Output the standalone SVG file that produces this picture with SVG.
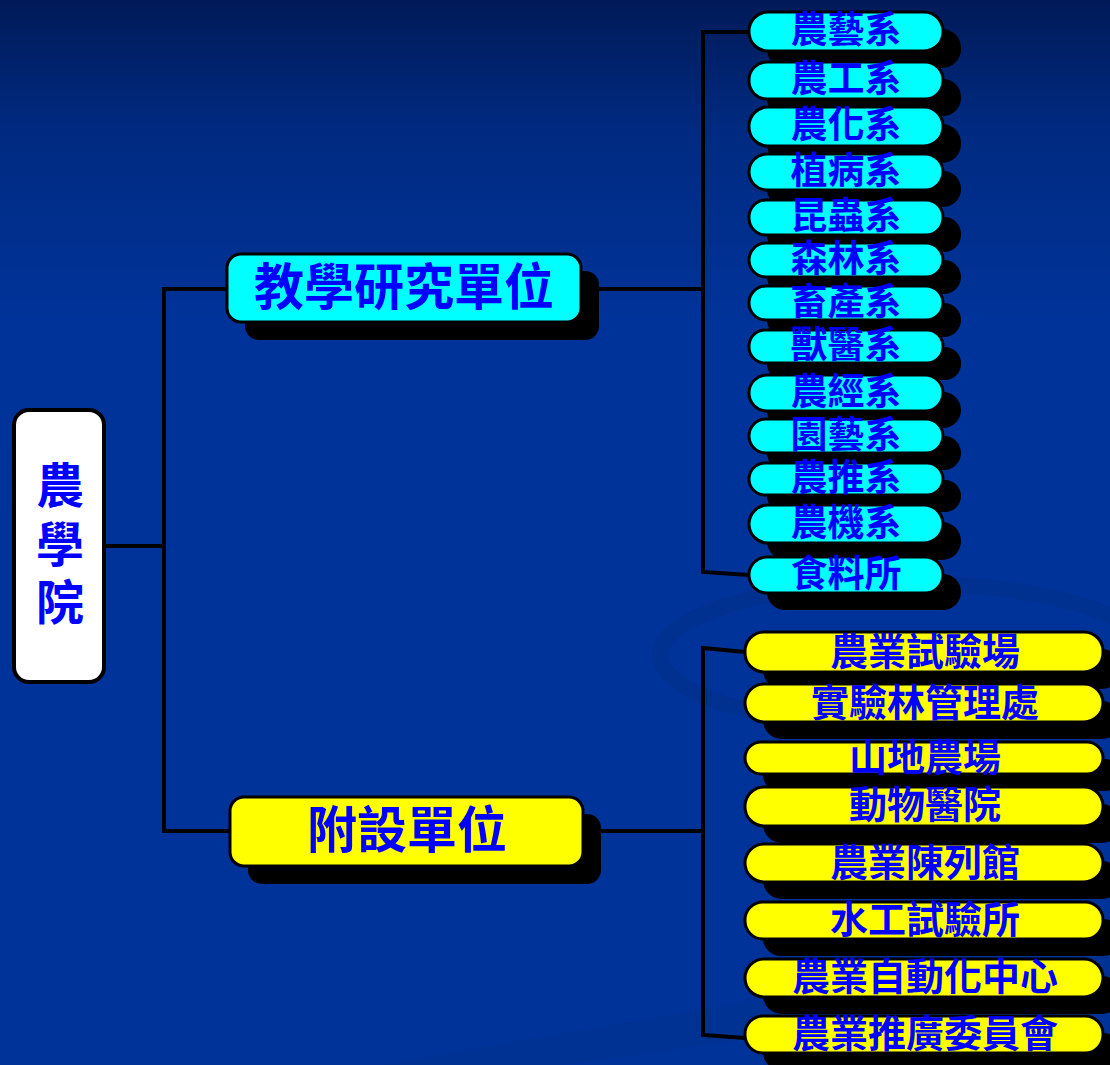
<svg xmlns="http://www.w3.org/2000/svg" width="1110" height="1065" viewBox="0 0 1110 1065">
<defs>
<linearGradient id="bg" x1="0" y1="0" x2="0" y2="1065" gradientUnits="userSpaceOnUse">
<stop offset="0" stop-color="#001a58"/>
<stop offset="0.12" stop-color="#002a80"/>
<stop offset="0.3" stop-color="#003399"/>
<stop offset="1" stop-color="#003399"/>
</linearGradient>
</defs>
<style>
.t{font-family:"Noto Sans CJK TC","Noto Sans CJK SC",sans-serif;font-weight:bold;fill:#0000ff;text-anchor:middle}
.sh{fill:#000}
.cy{fill:#00ffff;stroke:#000;stroke-width:3}
.ye{fill:#ffff00;stroke:#000;stroke-width:3}
.wh{fill:#fff;stroke:#000;stroke-width:4}
.ln{fill:none;stroke:#000;stroke-width:4}
.s{font-size:37px}
.y{font-size:38px}
.b{font-size:50px}
.r{font-size:48px}
</style>
<rect width="1110" height="1065" fill="url(#bg)"/>
<g id="background-swooshes" opacity="0.55">
<ellipse cx="905" cy="655" rx="245" ry="72" fill="none" stroke="#002d88" stroke-width="16"/>
<path d="M380 1065 L1110 940 L1110 990 L560 1065 Z" fill="#00318f"/>
</g>
<g id="connectors">
<polyline class="ln" points="106,546 164,546"/>
<polyline class="ln" points="227,289 164,289 164,831 230,831"/>
<polyline class="ln" points="582,289 703,289"/>
<polyline class="ln" points="749,32 703,32 703,572 749,575"/>
<polyline class="ln" points="583,831 703,831"/>
<polyline class="ln" points="745,652 703,648 703,1035 745,1038"/>
</g>
<g id="root">
<rect class="wh" x="14" y="410" width="90" height="272" rx="15"/>
<text class="t r" x="60" y="503">農</text>
<text class="t r" x="60" y="562">學</text>
<text class="t r" x="60" y="620">院</text>
</g>
<g id="teaching">
<rect class="sh" x="245" y="271" width="354" height="69" rx="14"/>
<rect class="cy" x="227" y="254" width="354" height="68" rx="14"/>
<text class="t b" x="404" y="305">教學研究單位</text>
</g>
<g id="affiliated">
<rect class="sh" x="248" y="814" width="353" height="70" rx="14"/>
<rect class="ye" x="230" y="797" width="353" height="69" rx="14"/>
<text class="t b" x="407" y="848">附設單位</text>
</g>
<g id="cyan-shadows">
<rect class="sh" x="767" y="29" width="194" height="39" rx="19"/>
<rect class="sh" x="767" y="79" width="194" height="37" rx="18"/>
<rect class="sh" x="767" y="124" width="194" height="39" rx="19"/>
<rect class="sh" x="767" y="171" width="194" height="36" rx="18"/>
<rect class="sh" x="767" y="217" width="194" height="35" rx="17"/>
<rect class="sh" x="767" y="260" width="194" height="34" rx="17"/>
<rect class="sh" x="767" y="303" width="194" height="34" rx="17"/>
<rect class="sh" x="767" y="347" width="194" height="33" rx="16"/>
<rect class="sh" x="767" y="392" width="194" height="36" rx="18"/>
<rect class="sh" x="767" y="436" width="194" height="34" rx="17"/>
<rect class="sh" x="767" y="480" width="194" height="32" rx="16"/>
<rect class="sh" x="767" y="522" width="194" height="38" rx="19"/>
<rect class="sh" x="767" y="574" width="194" height="36" rx="18"/>
</g>
<g id="n1"><rect class="cy" x="749" y="12" width="194" height="39" rx="19"/><text class="t s" x="846" y="43">農藝系</text></g>
<g id="n2"><rect class="cy" x="749" y="62" width="194" height="37" rx="18"/><text class="t s" x="846" y="92">農工系</text></g>
<g id="n3"><rect class="cy" x="749" y="107" width="194" height="39" rx="19"/><text class="t s" x="846" y="138">農化系</text></g>
<g id="n4"><rect class="cy" x="749" y="154" width="194" height="36" rx="18"/><text class="t s" x="846" y="184">植病系</text></g>
<g id="n5"><rect class="cy" x="749" y="200" width="194" height="35" rx="17"/><text class="t s" x="846" y="229">昆蟲系</text></g>
<g id="n6"><rect class="cy" x="749" y="243" width="194" height="34" rx="17"/><text class="t s" x="846" y="272">森林系</text></g>
<g id="n7"><rect class="cy" x="749" y="286" width="194" height="34" rx="17"/><text class="t s" x="846" y="315">畜產系</text></g>
<g id="n8"><rect class="cy" x="749" y="330" width="194" height="33" rx="16"/><text class="t s" x="846" y="358">獸醫系</text></g>
<g id="n9"><rect class="cy" x="749" y="375" width="194" height="36" rx="18"/><text class="t s" x="846" y="405">農經系</text></g>
<g id="n10"><rect class="cy" x="749" y="419" width="194" height="34" rx="17"/><text class="t s" x="846" y="448">園藝系</text></g>
<g id="n11"><rect class="cy" x="749" y="463" width="194" height="32" rx="16"/><text class="t s" x="846" y="491">農推系</text></g>
<g id="n12"><rect class="cy" x="749" y="505" width="194" height="38" rx="19"/><text class="t s" x="846" y="536">農機系</text></g>
<g id="n13"><rect class="cy" x="749" y="557" width="194" height="36" rx="18"/><text class="t s" x="846" y="587">食料所</text></g>
<g id="yellow-shadows">
<rect class="sh" x="763" y="649" width="358" height="40" rx="19"/>
<rect class="sh" x="763" y="701" width="358" height="38" rx="19"/>
<rect class="sh" x="763" y="759" width="358" height="32" rx="16"/>
<rect class="sh" x="763" y="804" width="358" height="39" rx="19"/>
<rect class="sh" x="763" y="861" width="358" height="38" rx="19"/>
<rect class="sh" x="763" y="919" width="358" height="37" rx="18"/>
<rect class="sh" x="763" y="976" width="358" height="38" rx="19"/>
<rect class="sh" x="763" y="1033" width="358" height="37" rx="18"/>
</g>
<g id="y1"><rect class="ye" x="745" y="632" width="358" height="40" rx="19"/><text class="t y" x="925" y="665">農業試驗場</text></g>
<g id="y2"><rect class="ye" x="745" y="684" width="358" height="38" rx="19"/><text class="t y" x="925" y="716">實驗林管理處</text></g>
<g id="y3"><rect class="ye" x="745" y="742" width="358" height="32" rx="16"/><text class="t y" x="925" y="771">山地農場</text></g>
<g id="y4"><rect class="ye" x="745" y="787" width="358" height="39" rx="19"/><text class="t y" x="925" y="818">動物醫院</text></g>
<g id="y5"><rect class="ye" x="745" y="844" width="358" height="38" rx="19"/><text class="t y" x="925" y="876">農業陳列館</text></g>
<g id="y6"><rect class="ye" x="745" y="902" width="358" height="37" rx="18"/><text class="t y" x="925" y="933">水工試驗所</text></g>
<g id="y7"><rect class="ye" x="745" y="959" width="358" height="38" rx="19"/><text class="t y" x="925" y="990">農業自動化中心</text></g>
<g id="y8"><rect class="ye" x="745" y="1016" width="358" height="37" rx="18"/><text class="t y" x="925" y="1047">農業推廣委員會</text></g>
</svg>
